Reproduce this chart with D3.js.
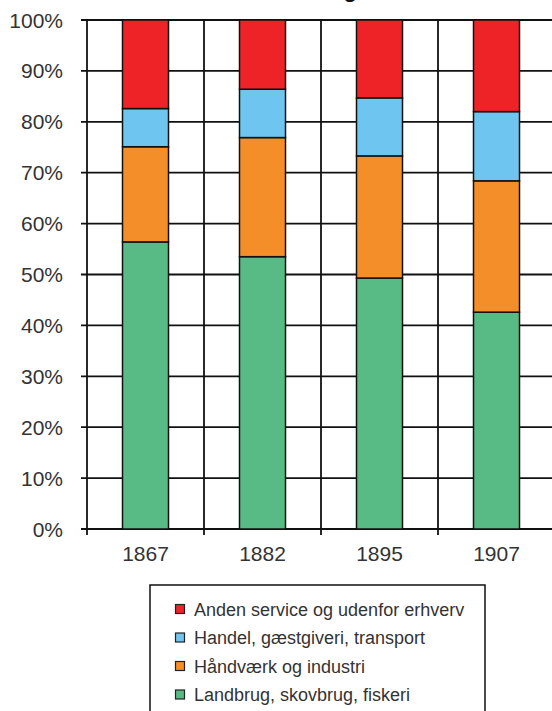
<!DOCTYPE html>
<html><head><meta charset="utf-8">
<script src="https://cdn.jsdelivr.net/npm/d3@7"></script>
<style>
html,body{margin:0;padding:0;background:#fff;overflow:hidden;}
text{font-family:"Liberation Sans",Arial,Helvetica,sans-serif;}
</style></head>
<body>
<svg id="chart" width="552" height="711"></svg>
<script>
const years = ["1867", "1882", "1895", "1907"];
const seriesNames = ["Landbrug, skovbrug, fiskeri", "Håndværk og industri", "Handel, gæstgiveri, transport", "Anden service og udenfor erhverv"];
const landbrug = [56.4, 53.5, 49.3, 42.6];
const haandvaerk = [18.7, 23.4, 24.0, 25.8];
const handel = [7.5, 9.5, 11.4, 13.6];
const anden = [17.4, 13.6, 15.3, 18.0];
const colors = ["#58ba84", "#f48e28", "#6ec5f0", "#ed2328"];
const yTicks = [0, 10, 20, 30, 40, 50, 60, 70, 80, 90, 100];

const svg = d3.select("#chart");
const x = d3.scaleBand().domain(years).range([87, 555]).padding(0);
const y = d3.scaleLinear().domain([0, 100]).range([529, 20]);
const barW = 46;

// title (mostly cut off at the top, as in the reference)
svg.append("text").attr("x", 357).attr("y", -3).attr("text-anchor", "end")
  .attr("font-size", 22).attr("font-weight", "bold").attr("fill", "#111")
  .text("Erhvervsfordeling");

// horizontal gridlines + y ticks
svg.append("g").selectAll("line").data(yTicks).join("line")
  .attr("x1", 81).attr("x2", 552)
  .attr("y1", d => y(d)).attr("y2", d => y(d))
  .attr("stroke", "#111").attr("stroke-width", 1.8);

// vertical gridlines at band boundaries
const bounds = years.map(d => x(d)).concat([x(years[years.length-1]) + x.bandwidth()]);
svg.append("g").selectAll("line").data(bounds).join("line")
  .attr("x1", d => d).attr("x2", d => d)
  .attr("y1", y(100)).attr("y2", y(0) + 6)
  .attr("stroke", "#111").attr("stroke-width", 1.8);

// y labels
svg.append("g").selectAll("text").data(yTicks).join("text")
  .attr("x", 63).attr("y", d => y(d) + 7.5)
  .attr("text-anchor", "end").attr("font-size", 21).attr("fill", "#333")
  .text(d => d + "%");

// stacked data
const rows = years.map((yr, i) => ({year: yr, s0: landbrug[i], s1: haandvaerk[i], s2: handel[i], s3: anden[i]}));
const stack = d3.stack().keys(["s0", "s1", "s2", "s3"])(rows);

svg.append("g").selectAll("g").data(stack).join("g")
  .attr("fill", (d, i) => colors[i])
  .selectAll("rect").data(d => d).join("rect")
  .attr("x", d => x(d.data.year) + x.bandwidth() / 2 - barW / 2)
  .attr("width", barW)
  .attr("y", d => y(d[1]))
  .attr("height", d => y(d[0]) - y(d[1]))
  .attr("stroke", "#111").attr("stroke-width", 1.5);

// x labels
svg.append("g").selectAll("text").data(years).join("text")
  .attr("x", d => x(d) + x.bandwidth() / 2).attr("y", 561)
  .attr("text-anchor", "middle").attr("font-size", 21).attr("fill", "#333")
  .text(d => d);

// legend
const lg = svg.append("g");
lg.append("rect").attr("x", 150).attr("y", 585).attr("width", 335).attr("height", 140)
  .attr("fill", "none").attr("stroke", "#111").attr("stroke-width", 1.5);
const legendOrder = [3, 2, 1, 0];
legendOrder.forEach((si, j) => {
  const cy = 609 + j * 28.5;
  lg.append("rect").attr("x", 175.5).attr("y", cy - 4.5).attr("width", 9).attr("height", 9)
    .attr("fill", colors[si]).attr("stroke", "#222").attr("stroke-width", 1.2);
  lg.append("text").attr("x", 194).attr("y", cy + 6.5).attr("font-size", 18).attr("fill", "#333")
    .text(seriesNames[si]);
});
</script>
</body></html>
